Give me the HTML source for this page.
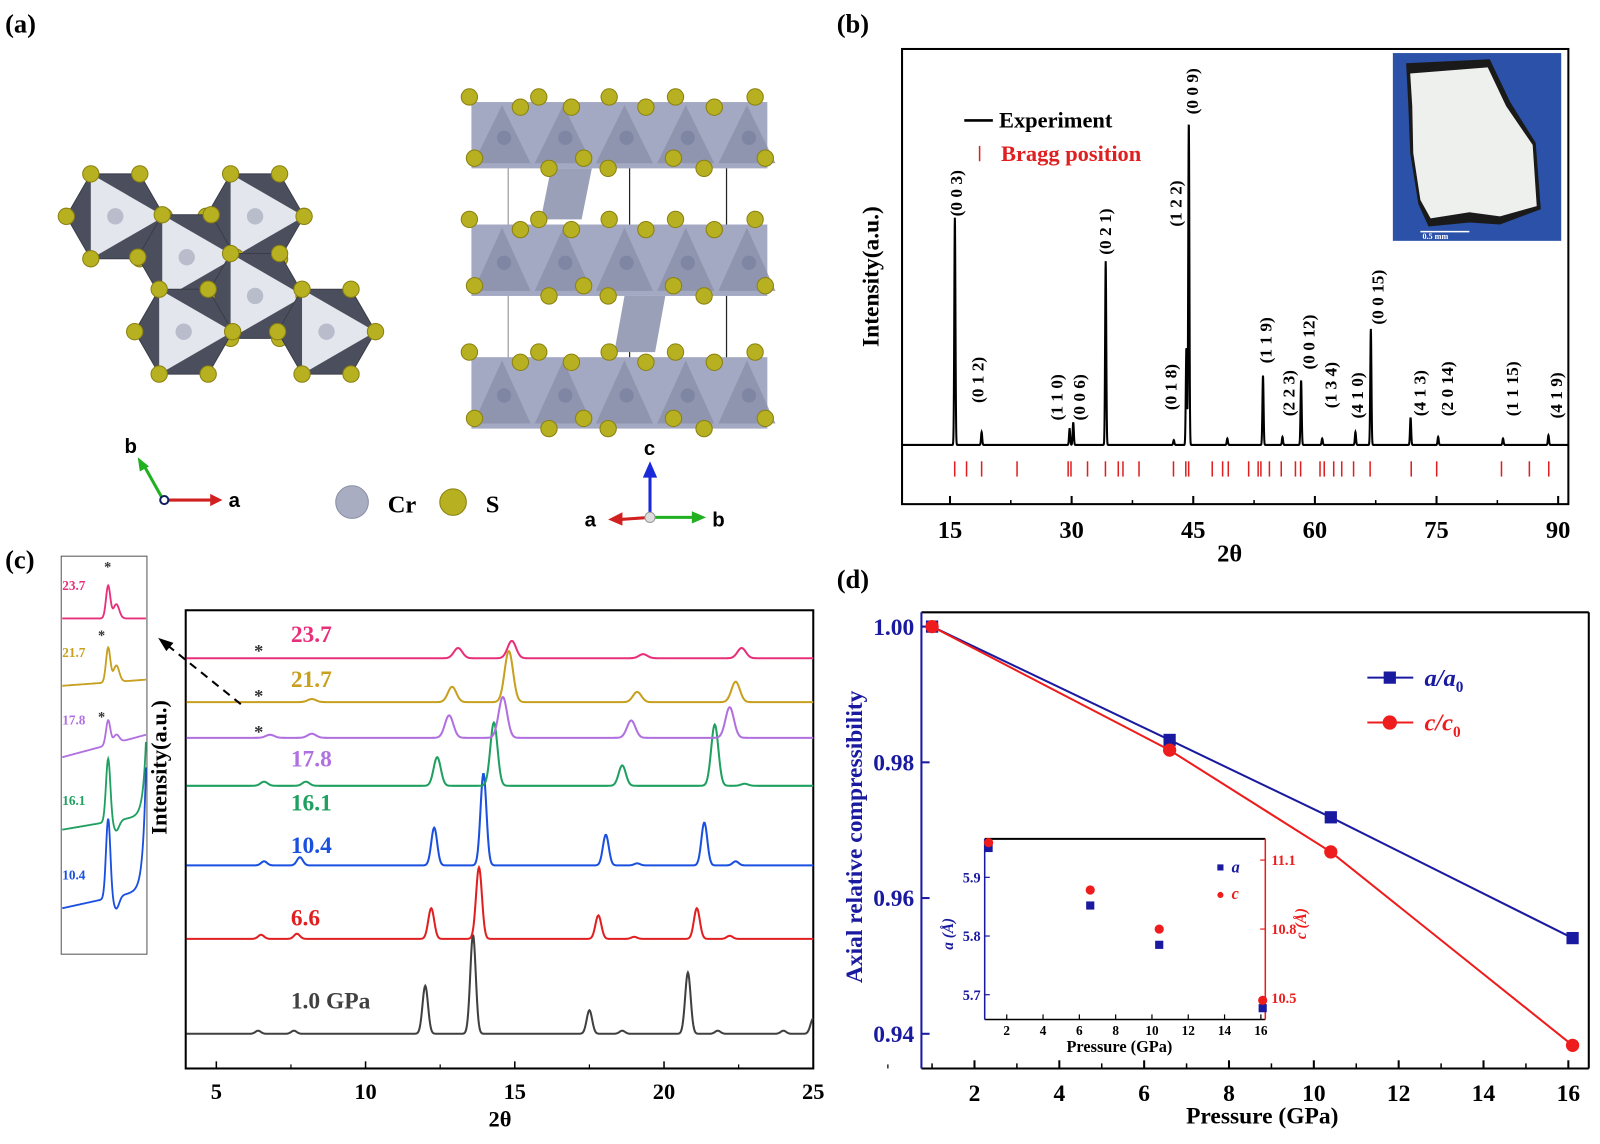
<!DOCTYPE html>
<html><head><meta charset="utf-8"><title>CrS structure and XRD figure</title>
<style>
html,body{margin:0;padding:0;background:#fff;}
svg{display:block;}
text{font-family:"Liberation Serif",serif;font-weight:bold;}
.sans{font-family:"Liberation Sans",sans-serif;}
</style></head>
<body>
<svg id="fig" xmlns="http://www.w3.org/2000/svg" width="1600" height="1144" viewBox="0 0 1568 1121" preserveAspectRatio="none">
<rect x="0" y="0" width="1568" height="1121" fill="#fff"/>
<text x="5" y="32" font-size="26">(a)</text>
<text x="820" y="32" font-size="26">(b)</text>
<text x="5" y="557" font-size="26">(c)</text>
<text x="820" y="576" font-size="26">(d)</text>

<g id="pa"></g>
<g id="pb"></g>
<g id="pc"></g>
<g id="pd"></g>
</svg>
<script>
// ---------------- DATA ----------------
var bPeakPos = [15.6,18.9,29.75,30.2,34.2,42.6,44.15,44.45,49.2,53.6,56.0,58.3,60.9,65.0,66.9,71.8,75.2,83.2,88.8];
var bPeakInt = [70.5,4,5,7,57,1.5,30,100,2,21.5,2.5,20,2,4,36,8.5,2.5,2,3];
var bBragg = [15.58,17.04,18.9,23.27,29.57,29.92,31.96,34.17,35.75,36.33,38.31,42.56,44.08,44.43,47.34,48.62,49.32,51.83,53.0,53.34,54.39,55.85,57.6,58.24,60.63,61.15,62.32,63.31,64.77,66.81,71.88,75.02,83.01,86.45,88.84];
var bTicks = [15,30,45,60,75,90];
var bHkl = ["(0 0 3)","(0 1 2)","(1 1 0)","(0 0 6)","(0 2 1)","(0 1 8)","(1 2 2)","(0 0 9)","(1 1 9)","(2 2 3)","(0 0 12)","(1 3 4)","(4 1 0)","(0 0 15)","(4 1 3)","(2 0 14)","(1 1 15)","(4 1 9)"];
var bHklPos = [15.75,18.4,28.1,30.9,34.1,42.2,42.8,44.8,53.9,56.7,59.2,61.9,65.2,67.7,72.9,76.3,84.3,89.7];
var bHklTop = [70.9,13,7.6,7.6,59,10.8,67.7,102.5,25.3,8.9,23.4,11.4,8.2,37.3,8.9,8.9,8.9,8.2];

var cPress = ["1.0 GPa","6.6","10.4","16.1","17.8","21.7","23.7"];
var cPos = [
 [6.4,7.6,12.0,13.6,17.5,18.6,20.8,21.8,24.0,25.0],
 [6.5,7.7,12.2,13.8,17.8,19.0,21.1,22.2],
 [6.6,7.8,12.3,13.95,18.05,19.1,21.35,22.4],
 [6.6,8.0,12.4,14.3,18.6,21.7,22.7],
 [6.8,8.2,12.8,14.6,18.9,22.2],
 [8.2,12.9,14.8,19.1,22.4],
 [13.1,14.9,19.3,22.6]
];
var cInt = [
 [3,3,47,97,23,3,60,3,3,15],
 [4,5,30,70,23,2,30,3],
 [4,8,37,90,30,2,42,4],
 [4,4,28,62,20,60,2],
 [3,4,22,40,17,30],
 [3,15,50,10,20],
 [10,17,4,10]
];
var cXTicks = [5,10,15,20,25];

var dP = [1.0,6.6,10.4,16.1];
var dA = [1.0,0.9833,0.9719,0.9541];
var dC = [1.0,0.9818,0.9668,0.9383];
var dXTicks = [2,4,6,8,10,12,14,16];
var dYTicks = [1.00,0.98,0.96,0.94];
var insA = [5.95,5.852,5.785,5.677];
var insC = [11.176,10.97,10.80,10.49];
var insXTicks = [2,4,6,8,10,12,14,16];
var insATicks = [5.7,5.8,5.9];
var insCTicks = [10.5,10.8,11.1];

var NS = "http://www.w3.org/2000/svg";
function mk(tag, attrs, parent){
  var e = document.createElementNS(NS, tag);
  for (var k in attrs) e.setAttribute(k, attrs[k]);
  parent.appendChild(e);
  return e;
}
function txt(str, attrs, parent){ var t = mk("text", attrs, parent); t.textContent = str; return t; }

// ---------------- PANEL A ----------------
(function(){
  var g = document.getElementById("pa");
  var hexC = [[113,212],[250,212],[183,252],[250,290],[180,325],[320,325]];
  hexC.forEach(function(c){
    var r = 48, pts = [];
    for (var i=0;i<6;i++){ var a = Math.PI/3*i; pts.push([c[0]+r*Math.cos(a), c[1]+r*Math.sin(a)]); }
    var hex = mk("polygon",{points:pts.map(function(p){return p.join(",");}).join(" "),fill:"#4b4f5d",stroke:"#3a3d48","stroke-width":1},g);
    
    
    var tri = mk("polygon",{points:[pts[0],pts[2],pts[4]].map(function(p){return p.join(",");}).join(" "),fill:"#e4e6ee"},g);
    
    
    var cr = mk("circle",{cx:c[0],cy:c[1],r:8,fill:"#b8bccb"},g);
    
    
    pts.forEach(function(p){
      var s = mk("circle",{cx:p[0],cy:p[1],r:8,fill:"#b7b020",stroke:"#8a8010","stroke-width":1},g);
      
      
    });
  });
  var layers = [[95,165],[215,290],[345,420]];
  mk("line",{x1:498,y1:130,x2:498,y2:385,stroke:"#888","stroke-width":1},g);
  mk("line",{x1:617,y1:130,x2:617,y2:385,stroke:"#222","stroke-width":1.2},g);
  mk("line",{x1:712,y1:130,x2:712,y2:385,stroke:"#222","stroke-width":1.2},g);
  var pil1 = mk("polygon",{points:"540,165 580,165 570,215 530,215",fill:"#9aa0b8"},g);
  
  
  var pil2 = mk("polygon",{points:"612,290 652,290 642,345 602,345",fill:"#9aa0b8"},g);
  
  
  layers.forEach(function(L){
    var slab = mk("rect",{x:462,y:L[0]+5,width:290,height:L[1]-L[0]-5,fill:"#a3a9c2"},g);
    
    
    for (var i=0;i<5;i++){
      var x0 = 462+i*60;
      mk("polygon",{points:(x0+30)+","+(L[0]+8)+" "+(x0+58)+","+(L[1]-5)+" "+(x0+2)+","+(L[1]-5),fill:"#8a90aa",opacity:0.8},g);
      var cr = mk("circle",{cx:x0+32,cy:(L[0]+L[1])/2+5,r:7,fill:"#7f86a3"},g);
      
      
    }
    var topX=[460,510,528,560,597,633,662,700,740], botX=[465,538,572,596,660,690,750];
    topX.forEach(function(x,i){
      var s = mk("circle",{cx:x,cy:L[0]+(i%2?10:0),r:8,fill:"#b7b020",stroke:"#8a8010","stroke-width":1},g);
      
      
    });
    botX.forEach(function(x,i){
      var s = mk("circle",{cx:x,cy:L[1]-(i%2?0:10),r:8,fill:"#b7b020",stroke:"#8a8010","stroke-width":1},g);
      
      
    });
  });
  mk("line",{x1:160,y1:490,x2:208,y2:490,stroke:"#d02020","stroke-width":3},g);
  mk("polygon",{points:"206,484 218,490 206,496",fill:"#d02020"},g);
  mk("line",{x1:160,y1:490,x2:141,y2:456,stroke:"#20b020","stroke-width":3},g);
  mk("polygon",{points:"135,448 137,462 146,457",fill:"#20b020"},g);
  mk("circle",{cx:161,cy:490,r:4,fill:"#fff",stroke:"#102060","stroke-width":2},g);
  txt("a",{x:224,y:497,"font-size":20,class:"sans",},g);
  txt("b",{x:122,y:444,"font-size":20,class:"sans",},g);
  var crL = mk("circle",{cx:345,cy:492,r:16,fill:"#a9adc2",stroke:"#8a8ea6"},g);
  
  
  txt("Cr",{x:380,y:502,"font-size":24,},g);
  var sL = mk("circle",{cx:444,cy:492,r:13,fill:"#b7b020",stroke:"#8a8010"},g);
  
  
  txt("S",{x:476,y:502,"font-size":24,},g);
  mk("line",{x1:637,y1:507,x2:637,y2:465,stroke:"#1a2ad8","stroke-width":3},g);
  mk("polygon",{points:"630,468 637,452 644,468",fill:"#1a2ad8"},g);
  mk("line",{x1:637,y1:507,x2:608,y2:509,stroke:"#d02020","stroke-width":3},g);
  mk("polygon",{points:"610,502 596,509 610,515",fill:"#d02020"},g);
  mk("line",{x1:637,y1:507,x2:680,y2:507,stroke:"#20b020","stroke-width":3},g);
  mk("polygon",{points:"678,501 692,507 678,513",fill:"#20b020"},g);
  mk("circle",{cx:637,cy:507,r:5,fill:"#ddd",stroke:"#999"},g);
  txt("c",{x:631,y:446,"font-size":20,class:"sans",},g);
  txt("a",{x:573,y:516,"font-size":20,class:"sans",},g);
  txt("b",{x:698,y:516,"font-size":20,class:"sans",},g);
})();

// ---------------- PANEL B ----------------
(function(){
  var g = document.getElementById("pb");
  var L=884,R=1537,T=48,B=494;
  function xB(d){ return 931 + (d-15)*(596/75); }
  function yB(v){ return 436 - v*3.16; }
  var frame = mk("rect",{x:L,y:T,width:R-L,height:B-T,fill:"none",stroke:"#000","stroke-width":2},g);
  
  
  var ph = mk("g",{},g);
  
  
  mk("rect",{x:1365,y:52,width:165,height:184,fill:"#2b52a8"},ph);
  mk("polygon",{points:"1378,62 1460,58 1480,100 1505,140 1510,205 1470,220 1440,218 1400,222 1390,200 1382,150 1380,100",fill:"#1a1a1a"},ph);
  mk("polygon",{points:"1382,72 1458,66 1476,104 1502,142 1506,202 1470,212 1440,208 1402,214 1392,196 1385,150 1384,104",fill:"#eef0ee"},ph);
  mk("line",{x1:1392,y1:227,x2:1440,y2:227,stroke:"#fff","stroke-width":1.5},ph);
  txt("0.5 mm",{x:1394,y:234,"font-size":8,fill:"#fff",},ph);
  var d = "";
  for (var t=9.2; t<=91.2; t+=0.02){
    var v = 0;
    for (var i=0;i<bPeakPos.length;i++){ var dx=(t-bPeakPos[i])/0.1; v += bPeakInt[i]*Math.exp(-dx*dx); }
    d += (d?"L":"M") + xB(t).toFixed(2) + "," + yB(v).toFixed(2);
  }
  var pat = mk("path",{d:d,fill:"none",stroke:"#000","stroke-width":2},g);
  
  
  bBragg.forEach(function(p){
    var tk = mk("line",{x1:xB(p),y1:452,x2:xB(p),y2:467,stroke:"#e02020","stroke-width":1.5},g);
    
    
  });
  bTicks.forEach(function(v){
    var tk = mk("line",{x1:xB(v),y1:B,x2:xB(v),y2:B-8,stroke:"#000","stroke-width":2},g);
    
    
    var mt = mk("line",{x1:xB(v+7.5),y1:B,x2:xB(v+7.5),y2:B-4,stroke:"#000","stroke-width":1.5},g);
    
    
    var lb = txt(String(v),{x:xB(v),y:527,"font-size":24,"text-anchor":"middle"},g);
    
    
  });
  bHkl.forEach(function(h,i){
    var x = xB(bHklPos[i])+6, y = yB(bHklTop[i]);
    var lb = txt(h,{transform:"translate("+x.toFixed(1)+","+y.toFixed(1)+") rotate(-90)","font-size":17},g);
    
    
  });
  txt("2θ",{x:1205,y:550,"font-size":24,"text-anchor":"middle",},g);
  txt("Intensity(a.u.)",{transform:"translate(861,271) rotate(-90)","font-size":23,"text-anchor":"middle",},g);
  var lg = mk("g",{},g);
  
  
  mk("line",{x1:945,y1:118,x2:973,y2:118,stroke:"#000","stroke-width":2.5},lg);
  txt("Experiment",{x:979,y:125,"font-size":22,},lg);
  mk("line",{x1:960,y1:143,x2:960,y2:158,stroke:"#e02020","stroke-width":1.5},lg);
  txt("Bragg position",{x:981,y:158,"font-size":22,fill:"#e02020",},lg);
})();

// ---------------- PANEL C ----------------
(function(){
  var g = document.getElementById("pc");
  var L=182,R=797,T=598,B=1047;
  function xC(d){ return 212 + (d-5)*29.25; }
  var cBase = [1013,920,848,770,723,688,645];
  var cCol = ["#404040","#e02020","#1a50e0","#20a060","#b070e0","#c8a020","#e8307a"];
  var cW = [0.13,0.14,0.14,0.17,0.2,0.2,0.2];
  var lblX = [285,285,285,285,285,285,285];
  var lblY = [988,907,836,794,751,673,629];
  var frame = mk("rect",{x:L,y:T,width:R-L,height:B-T,fill:"none",stroke:"#000","stroke-width":2},g);
  
  
  for (var k=0;k<cPress.length;k++){
    var d="";
    for (var t=4.0; t<=25.0; t+=0.02){
      var v=0;
      for (var i=0;i<cPos[k].length;i++){ var dx=(t-cPos[k][i])/cW[k]; v += cInt[k][i]*Math.exp(-dx*dx); }
      d += (d?"L":"M") + xC(t).toFixed(2) + "," + (cBase[k]-v).toFixed(2);
    }
    var p = mk("path",{d:d,fill:"none",stroke:cCol[k],"stroke-width":2},g);
    
    
    var lb = txt(cPress[k],{x:lblX[k],y:lblY[k],"font-size":23,fill:cCol[k]},g);
    
    
  }
  [640,684,719].forEach(function(y){
    var s = txt("*",{x:249,y:y+4,"font-size":18,fill:"#333"},g);
    
    
  });
  cXTicks.forEach(function(v){
    var tk = mk("line",{x1:xC(v),y1:B,x2:xC(v),y2:B-7,stroke:"#000","stroke-width":1.5},g);
    
    
    var mt = mk("line",{x1:xC(v+2.5),y1:B,x2:xC(v+2.5),y2:B-4,stroke:"#000","stroke-width":1.2},g);
    
    
    var lb = txt(String(v),{x:xC(v),y:1077,"font-size":22,"text-anchor":"middle"},g);
    
    
  });
  txt("2θ",{x:490,y:1104,"font-size":22,"text-anchor":"middle",},g);
  txt("Intensity(a.u.)",{transform:"translate(163,752) rotate(-90)","font-size":22,"text-anchor":"middle",},g);
  mk("line",{x1:236,y1:690,x2:165,y2:633,stroke:"#000","stroke-width":2,"stroke-dasharray":"8,6"},g);
  mk("polygon",{points:"155,625 170,630 163,638",fill:"#000"},g);
  var ins = mk("g",{},g);
  
  
  mk("rect",{x:60,y:545,width:84,height:390,fill:"none",stroke:"#555","stroke-width":1},ins);
  var iLbl = ["23.7","21.7","17.8","16.1","10.4"];
  var iCol = ["#e8307a","#c8a020","#b070e0","#20a060","#1a50e0"];
  var iBase = [606,672,742,813,890];
  var iLblY = [578,644,710,789,862];
  var iPk1 = [32,34,24,62,78];
  var iPk2 = [14,16,8,-10,-12];
  var iSlope = [0,6,22,14,18];
  for (var k=0;k<5;k++){
    var d="";
    for (var x=61; x<=143; x+=0.5){
      var u=(x-61)/82, v = iSlope[k]*u;
      var d1=(x-106)/3, d2=(x-114)/4;
      v += iPk1[k]*Math.exp(-d1*d1) + iPk2[k]*Math.exp(-d2*d2);
      if (k>=3) v += 120*Math.exp(-(143-x)/3)*(k===4?1:0.6);
      d += (d?"L":"M")+x+","+(iBase[k]-v).toFixed(1);
    }
    var p = mk("path",{d:d,fill:"none",stroke:iCol[k],"stroke-width":1.8},ins);
    
    
    var lb = txt(iLbl[k],{x:61,y:iLblY[k],"font-size":13,fill:iCol[k]},ins);
    
    
  }
  [[102,560],[96,627],[96,707]].forEach(function(p){
    var s = txt("*",{x:p[0],y:p[1],"font-size":14,fill:"#333"},ins);
    
    
  });
})();

// ---------------- PANEL D ----------------
(function(){
  var g = document.getElementById("pd");
  var L=903,R=1557,T=600,B=1047;
  function xD(p){ return 955 + (p-2)*41.57; }
  function yD(v){ return 614 + (1.0-v)*6650; }
  mk("line",{x1:L,y1:T,x2:R,y2:T,stroke:"#000","stroke-width":2},g);
  mk("line",{x1:R,y1:T,x2:R,y2:B,stroke:"#000","stroke-width":2},g);
  mk("line",{x1:L,y1:B,x2:R,y2:B,stroke:"#000","stroke-width":2},g);
  mk("line",{x1:L,y1:T,x2:L,y2:B,stroke:"#1a1aa0","stroke-width":2},g);
  dXTicks.forEach(function(v){
    var tk = mk("line",{x1:xD(v),y1:B,x2:xD(v),y2:B-8,stroke:"#000","stroke-width":2},g);
    
    
    var mt = mk("line",{x1:xD(v-1),y1:B,x2:xD(v-1),y2:B-5,stroke:"#000","stroke-width":1.5},g);
    
    
    var lb = txt(String(v),{x:xD(v),y:1079,"font-size":23,"text-anchor":"middle"},g);
    
    
  });
  dYTicks.forEach(function(v){
    var tk = mk("line",{x1:L,y1:yD(v),x2:L+8,y2:yD(v),stroke:"#1a1aa0","stroke-width":2},g);
    
    
    var lb = txt(v.toFixed(2),{x:896,y:yD(v)+8,"font-size":23,"text-anchor":"end",fill:"#1a1aa0"},g);
    
    
  });
  txt("Axial relative compressibility",{transform:"translate(845,820) rotate(-90)","font-size":23,"text-anchor":"middle",fill:"#1a1aa0",},g);
  txt("Pressure (GPa)",{x:1237,y:1101,"font-size":23,"text-anchor":"middle",},g);
  function series(vals, col, marker, name){
    var pts = dP.map(function(p,i){ return xD(p).toFixed(1)+","+yD(vals[i]).toFixed(1); }).join(" ");
    var ln = mk("polyline",{points:pts,fill:"none",stroke:col,"stroke-width":2},g);
    
    
    dP.forEach(function(p,i){
      var m;
      if (marker==="sq") m = mk("rect",{x:xD(p)-6,y:yD(vals[i])-6,width:12,height:12,fill:col},g);
      else m = mk("circle",{cx:xD(p),cy:yD(vals[i]),r:6.5,fill:col},g);
      
      
    });
  }
  series(dA,"#1a1aa0","sq","a-ratio");
  series(dC,"#ee1c1c","ci","c-ratio");
  var lg = mk("g",{},g);
  
  
  mk("line",{x1:1340,y1:664,x2:1385,y2:664,stroke:"#1a1aa0","stroke-width":2},lg);
  mk("rect",{x:1356,y:658,width:12,height:12,fill:"#1a1aa0"},lg);
  var la = txt("",{x:1396,y:672,"font-size":24,fill:"#1a1aa0","font-style":"italic"},lg);
  la.innerHTML = 'a/a<tspan font-size="15" dy="6" font-style="normal">0</tspan>';
  
  
  mk("line",{x1:1340,y1:708,x2:1385,y2:708,stroke:"#ee1c1c","stroke-width":2},lg);
  mk("circle",{cx:1362,cy:708,r:7,fill:"#ee1c1c"},lg);
  var lc = txt("",{x:1396,y:716,"font-size":24,fill:"#ee1c1c","font-style":"italic"},lg);
  lc.innerHTML = 'c/c<tspan font-size="15" dy="6" font-style="normal">0</tspan>';
  
  

  var ins = mk("g",{},g);
  
  
  var iL=965, iR=1240, iT=822, iB=999;
  function xI(p){ return 986.6 + (p-2)*17.79; }
  function yA(a){ return 859.7 + (5.9-a)*575; }
  function yCc(c){ return 842.8 + (11.1-c)*225.3; }
  mk("rect",{x:iL,y:iT,width:iR-iL,height:iB-iT,fill:"#fff",stroke:"none"},ins);
  mk("line",{x1:iL,y1:iT,x2:iR,y2:iT,stroke:"#000","stroke-width":2},ins);
  mk("line",{x1:iL,y1:iB,x2:iR,y2:iB,stroke:"#000","stroke-width":1.5},ins);
  mk("line",{x1:iL,y1:iT,x2:iL,y2:iB,stroke:"#1a1aa0","stroke-width":1.5},ins);
  mk("line",{x1:iR,y1:iT,x2:iR,y2:iB,stroke:"#ee1c1c","stroke-width":1.5},ins);
  insXTicks.forEach(function(v){
    var tk = mk("line",{x1:xI(v),y1:iB,x2:xI(v),y2:iB-5,stroke:"#000","stroke-width":1.2},ins);
    
    
    var lb = txt(String(v),{x:xI(v),y:1014,"font-size":13,"text-anchor":"middle"},ins);
    
    
  });
  insATicks.forEach(function(v){
    var tk = mk("line",{x1:iL,y1:yA(v),x2:iL+5,y2:yA(v),stroke:"#1a1aa0","stroke-width":1.2},ins);
    
    
    var lb = txt(v.toFixed(1),{x:iL-4,y:yA(v)+5,"font-size":14,"text-anchor":"end",fill:"#1a1aa0"},ins);
    
    
  });
  insCTicks.forEach(function(v){
    var tk = mk("line",{x1:iR,y1:yCc(v),x2:iR-5,y2:yCc(v),stroke:"#ee1c1c","stroke-width":1.2},ins);
    
    
    var lb = txt(v.toFixed(1),{x:iR+6,y:yCc(v)+5,"font-size":14,fill:"#ee1c1c"},ins);
    
    
  });
  dP.forEach(function(p,i){
    var m = mk("rect",{x:xI(p)-4,y:yA(insA[i])-4,width:8,height:8,fill:"#1a1aa0"},ins);
    
    
    var c = mk("circle",{cx:xI(p),cy:yCc(insC[i]),r:4.5,fill:"#ee1c1c"},ins);
    
    
  });
  mk("rect",{x:1193,y:847,width:6,height:6,fill:"#1a1aa0"},ins);
  txt("a",{x:1207,y:855,"font-size":16,fill:"#1a1aa0","font-style":"italic",},ins);
  mk("circle",{cx:1196,cy:877,r:3,fill:"#ee1c1c"},ins);
  txt("c",{x:1207,y:881,"font-size":16,fill:"#ee1c1c","font-style":"italic",},ins);
  txt("a (Å)",{transform:"translate(934,915) rotate(-90)","font-size":15,"text-anchor":"middle",fill:"#1a1aa0","font-style":"italic",},ins);
  txt("c (Å)",{transform:"translate(1280,905) rotate(-90)","font-size":15,"text-anchor":"middle",fill:"#ee1c1c","font-style":"italic",},ins);
  txt("Pressure (GPa)",{x:1097,y:1031,"font-size":16,"text-anchor":"middle",},ins);
})();
</script>
</body></html>
